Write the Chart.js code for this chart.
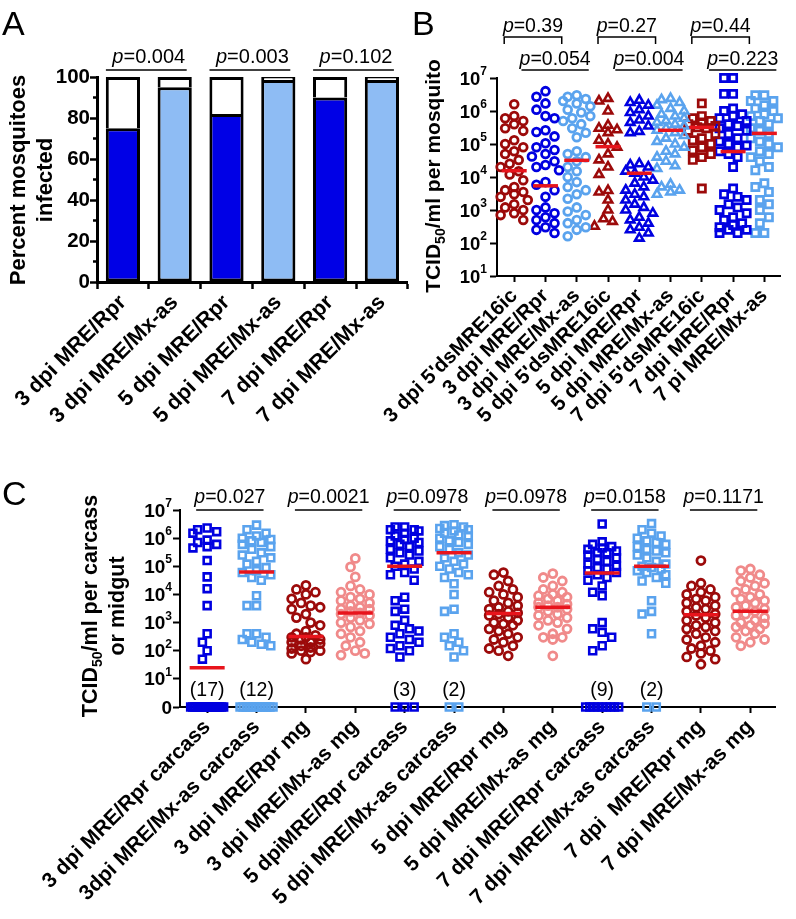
<!DOCTYPE html>
<html>
<head>
<meta charset="utf-8">
<script src="https://cdn.jsdelivr.net/npm/chart.js@4.4.1/dist/chart.umd.min.js"></script>
<style>
  html, body { margin: 0; padding: 0; background: #fff; }
  body { width: 796px; height: 919px; position: relative; overflow: hidden; }
  canvas { position: absolute; }
</style>
</head>
<body>
<canvas id="chartA" width="430" height="460" style="left:0;top:0;width:430px;height:460px"></canvas>
<canvas id="chartB" width="456" height="460" style="left:340px;top:0;width:456px;height:460px"></canvas>
<canvas id="chartC" width="796" height="459" style="left:0;top:460px;width:796px;height:459px"></canvas>
<script>
const FONT = '"Liberation Sans", Arial, Helvetica, sans-serif';

// ---------- panel A: percent infected ----------
const aCategories = ["3 dpi MRE/Rpr", "3 dpi MRE/Mx-as", "5 dpi MRE/Rpr", "5 dpi MRE/Mx-as", "7 dpi MRE/Rpr", "7 dpi MRE/Mx-as"];
const aInfectedPct = [75, 95, 82, 98.5, 90, 98.5];
const aPValues = ["0.004", "0.003", "0.102"];

// ---------- panel B: whole mosquito titres ----------
const bCategories = ["3 dpi 5'dsMRE16ic", "3 dpi MRE/Rpr", "3 dpi MRE/Mx-as", "5 dpi 5'dsMRE16ic", "5 dpi MRE/Rpr", "5 dpi MRE/Mx-as", "7 dpi 5'dsMRE16ic", "7 dpi MRE/Rpr", "7 pi MRE/Mx-as"];
const bDecades = [10, 100, 1e3, 1e4, 1e5, 1e6, 1e7];
const b3dpiDs = [1.6e6, 7e5, 6e5, 5e5, 4e5, 3e5, 2.5e5, 1.3e5, 1e5, 8e4, 6e4, 5e4, 3.3e4, 2.5e4, 2e4, 1.5e4, 1.2e4, 8e3, 5e3, 4e3, 3.5e3, 3e3, 2.5e3, 2e3, 1.5e3, 1.2e3, 1e3, 8e2, 7e2, 5e2];
const b3dpiRpr = [4e6, 2.7e6, 1.7e6, 1.1e6, 7e5, 6e5, 2.6e5, 2.3e5, 1.7e5, 1.05e5, 8e4, 6.6e4, 5e4, 4.2e4, 3e4, 2.3e4, 2e4, 1.6e4, 7e3, 5.8e3, 4e3, 2.5e3, 1.2e3, 1e3, 8e2, 6e2, 5e2, 4e2, 3e2, 2.5e2, 2e2];
const b3dpiMx = [3e6, 2.7e6, 2.3e6, 2e6, 1.7e6, 1.4e6, 1.1e6, 9e5, 7e5, 6e5, 5e5, 4e5, 3e5, 2.2e5, 1.6e5, 6e4, 5e4, 4e4, 3e4, 2e4, 1.5e4, 1e4, 7e3, 5e3, 4e3, 3e3, 2.2e3, 1.2e3, 9e2, 7e2, 5e2, 4e2, 3e2, 2.5e2, 1.6e2];
const b5dpiDs = [2.4e6, 2e6, 1e6, 3.7e5, 3e5, 2.7e5, 2.2e5, 1.3e5, 1e5, 8e4, 5e4, 3.3e4, 2e4, 1.2e4, 3.9e3, 3.5e3, 2e3, 1e3, 5.4e2, 4.5e2, 3.2e2];
const b5dpiRpr = [2.1e6, 1.8e6, 1.5e6, 1.1e6, 9e5, 7e5, 5.3e5, 4.5e5, 3.5e5, 2.4e5, 2.2e5, 2.5e4, 2.3e4, 2e4, 1.5e4, 1.3e4, 1e4, 8e3, 6.5e3, 5e3, 4e3, 3e3, 2.5e3, 2e3, 1.5e3, 1.2e3, 1e3, 8e2, 6e2, 5e2, 4e2, 3e2, 2.5e2, 2e2, 1.4e2];
const b5dpiMx = [2.4e6, 2.2e6, 1.8e6, 1.5e6, 1.2e6, 1e6, 8e5, 7e5, 6e5, 5e5, 4.5e5, 4e5, 3.5e5, 3e5, 2.6e5, 2.2e5, 1.8e5, 1.5e5, 1.2e5, 1e5, 8e4, 6e4, 5e4, 4e4, 3e4, 2.2e4, 1.8e4, 6e3, 5e3, 4e3, 3.5e3, 3e3];
const b7dpiDs = [1.7e6, 7e5, 6e5, 5e5, 4.5e5, 4e5, 3.5e5, 3.2e5, 3e5, 2.5e5, 2e5, 1.5e5, 1.3e5, 1e5, 8e4, 6.5e4, 5e4, 4e4, 3.3e4, 4.5e3];
const b7dpiRpr = [1e7, 1e7, 3.3e6, 3.3e6, 1.2e6, 1e6, 8e5, 7e5, 6e5, 5e5, 4e5, 3.5e5, 3e5, 2.5e5, 2e5, 1.5e5, 1.2e5, 1e5, 9e4, 8e4, 6e4, 5e4, 4e4, 2e4, 4.5e3, 3e3, 2.5e3, 2e3, 1.5e3, 1.2e3, 1e3, 8e2, 6e2, 5e2, 4e2, 3.5e2, 3e2, 2.5e2, 2.5e2, 2e2, 2e2];
const b7dpiMx = [3e6, 3e6, 2e6, 2e6, 1.5e6, 1.2e6, 1e6, 8e5, 7e5, 6e5, 5e5, 4e5, 3e5, 2.5e5, 2e5, 1.5e5, 1.2e5, 1e5, 8e4, 6e4, 5e4, 4e4, 3e4, 2e4, 1.6e4, 6.5e3, 5e3, 3.5e3, 2e3, 1.5e3, 1e3, 6e2, 4e2, 2e2, 2e2];
const bMedians = [1.55e4, 5.4e3, 3.2e4, 8.3e4, 1.3e4, 2.6e5, 3.2e5, 5.9e4, 2.1e5];
const bPBracket = ["0.39", "0.27", "0.44"];
const bPUnder = ["0.054", "0.004", "0.223"];

// ---------- panel C: carcass / midgut titres ----------
const cCategories = ["3 dpi MRE/Rpr carcass", "3dpi MRE/Mx-as carcass", "3 dpi MRE/Rpr mg", "3 dpi MRE/Mx-as mg", "5 dpiMRE/Rpr carcass", "5 dpi MRE/Mx-as carcass", "5 dpi MRE/Rpr mg", "5 dpi MRE/Mx-as mg", "7 dpi MRE/Rpr carcass", "7 dpi MRE/Mx-as carcass", "7 dpi  MRE/Rpr mg", "7 dpi MRE/Mx-as mg"];
const cDecades = [1, 10, 100, 1e3, 1e4, 1e5, 1e6, 1e7];
const c3RprCarcass = [2.3e6, 2e6, 1.7e6, 1.5e6, 8.5e5, 7e5, 6e5, 5e5, 4.5e5, 1.6e5, 4.2e4, 1.6e4, 4e3, 4e2, 2e2, 1e2, 5e1];
const c3MxCarcass = [2.9e6, 2e6, 1.5e6, 1.2e6, 1e6, 9e5, 8e5, 7e5, 6e5, 5e5, 4e5, 3e5, 2.5e5, 2e5, 1.5e5, 1.2e5, 9e4, 7e4, 6e4, 5e4, 4e4, 3.2e4, 9e3, 4e3, 4e3, 4e2, 4e2, 3e2, 2.5e2, 2e2, 1.7e2, 1.5e2];
const c3RprMg = [2.1e4, 1.5e4, 1.2e4, 1e4, 7e3, 5e3, 4e3, 3.5e3, 3e3, 2e3, 1.5e3, 1e3, 8e2, 5e2, 4e2, 3.5e2, 3e2, 3e2, 2.5e2, 2.5e2, 2e2, 2e2, 1.8e2, 1.5e2, 1.3e2, 1.2e2, 1e2, 1e2, 9e1, 8e1, 5e1];
const c3MxMg = [1.9e5, 9.5e4, 4.2e4, 2e4, 1.5e4, 1.2e4, 1e4, 8e3, 7e3, 6e3, 5e3, 4e3, 3.5e3, 3e3, 3e3, 2.5e3, 2.2e3, 2e3, 1.8e3, 1.5e3, 1.2e3, 1e3, 9e2, 7e2, 5e2, 4e2, 3e2, 2e2, 1.5e2, 1e2, 8e1, 7e1];
const c5RprCarcass = [2.5e6, 2.5e6, 2e6, 2e6, 1.8e6, 1.5e6, 1.2e6, 1e6, 9e5, 8e5, 7e5, 6e5, 5e5, 4e5, 3.5e5, 3e5, 2.5e5, 2e5, 1.5e5, 1.2e5, 1e5, 8e4, 6e4, 5e4, 3.2e4, 8e3, 6e3, 3e3, 2.5e3, 1.2e3, 8e2, 6e2, 5e2, 4e2, 3e2, 2.5e2, 2e2, 1.5e2, 1.2e2, 1e2, 6e1];
const c5MxCarcass = [3e6, 2.8e6, 2.5e6, 2.2e6, 2e6, 1.8e6, 1.5e6, 1.3e6, 1.2e6, 1e6, 8e5, 7e5, 6e5, 5e5, 4e5, 3e5, 2.5e5, 2e5, 1.5e5, 1.2e5, 1e5, 8e4, 6e4, 5e4, 4e4, 2.4e4, 1e4, 3e3, 2.5e3, 4e2, 3e2, 2e2, 1.5e2, 1e2, 6e1];
const c5RprMg = [6e4, 5e4, 3e4, 2e4, 1.5e4, 1.2e4, 1e4, 8e3, 6e3, 5e3, 4e3, 3.5e3, 3e3, 2.5e3, 2.2e3, 2e3, 1.8e3, 1.5e3, 1.2e3, 1e3, 9e2, 8e2, 6e2, 5e2, 4e2, 3e2, 2.5e2, 2e2, 1.5e2, 1.2e2, 1e2, 6.6e1];
const c5MxMg = [5.5e4, 4e4, 3e4, 2e4, 1.5e4, 1.2e4, 1e4, 9e3, 8e3, 7e3, 6e3, 5e3, 4.5e3, 4e3, 3.5e3, 3.5e3, 3e3, 2.5e3, 2e3, 1.8e3, 1.5e3, 1.2e3, 1e3, 8e2, 6e2, 4e2, 3e2, 3e2, 2.5e2, 6.6e1];
const c7RprCarcass = [3.2e6, 7.4e5, 6e5, 5e5, 4.5e5, 4e5, 3.5e5, 3e5, 3e5, 2.5e5, 2e5, 1.8e5, 1.5e5, 1.2e5, 1e5, 9e4, 8e4, 7e4, 6e4, 5e4, 4e4, 3.2e4, 2e4, 1.2e4, 9e3, 1e3, 6e2, 4.5e2, 3e2, 1.5e2, 1e2];
const c7MxCarcass = [3.3e6, 2e6, 1.5e6, 1.2e6, 1e6, 8e5, 7e5, 6e5, 5e5, 4e5, 3.5e5, 3e5, 2.5e5, 2e5, 1.5e5, 1.2e5, 1e5, 9e4, 8e4, 7e4, 6e4, 5e4, 4e4, 3e4, 2.5e4, 6e3, 2.5e3, 2e3, 4e2];
const c7RprMg = [1.6e5, 2.5e4, 2e4, 1.5e4, 1.2e4, 1e4, 8e3, 7e3, 6e3, 5e3, 4e3, 3.5e3, 3e3, 2.5e3, 2e3, 1.8e3, 1.5e3, 1.2e3, 1e3, 8e2, 7e2, 6e2, 5e2, 4e2, 3e2, 2.5e2, 2e2, 1.5e2, 1.2e2, 1e2, 8e1, 6e1, 5e1, 3.3e1];
const c7MxMg = [8e4, 7e4, 5e4, 4e4, 3e4, 2.5e4, 2e4, 1.5e4, 1.2e4, 1e4, 8e3, 7e3, 6e3, 5e3, 4e3, 3.5e3, 3e3, 2.5e3, 2e3, 1.8e3, 1.5e3, 1.2e3, 1e3, 9e2, 8e2, 7e2, 6e2, 5e2, 4e2, 3e2, 2.5e2, 2e2, 1.5e2];
const cZeroCounts = [17, 12, 0, 0, 3, 2, 0, 0, 9, 2, 0, 0];
const cMedians = [25, 6.3e4, 3.2e2, 2.2e3, 1e5, 3e5, 2.1e3, 3.5e3, 5.8e4, 1e5, 1.9e3, 2.5e3];
const cPValues = ["0.027", "0.0021", "0.0978", "0.0978", "0.0158", "0.1171"];

// colours
const DARK_RED = "#9c0a0a";
const BLUE = "#0000e0";
const LIGHT_BLUE = "#5aa3ee";
const PINK = "#f08a8a";
const MEDIAN_RED = "#e8141c";
const BAR_DARK = "#0000e6";
const BAR_LIGHT = "#8ebcf4";

Chart.defaults.font.family = FONT;
Chart.defaults.color = "#000";

// ---------- helpers ----------
function drawP(ctx, value, cx, baseline, size) {
  ctx.save();
  ctx.fillStyle = "#000";
  ctx.textBaseline = "alphabetic";
  ctx.textAlign = "left";
  ctx.font = `italic ${size}px ${FONT}`;
  const wp = ctx.measureText("p").width;
  ctx.font = `${size}px ${FONT}`;
  const rest = "=" + value;
  const wr = ctx.measureText(rest).width;
  const x0 = cx - (wp + wr) / 2;
  ctx.font = `italic ${size}px ${FONT}`;
  ctx.fillText("p", x0, baseline);
  ctx.font = `${size}px ${FONT}`;
  ctx.fillText(rest, x0 + wp, baseline);
  ctx.restore();
}

function strokePath(ctx, pts, width) {
  ctx.save();
  ctx.strokeStyle = "#000";
  ctx.lineWidth = width;
  ctx.beginPath();
  pts.forEach(([x, y], i) => (i ? ctx.lineTo(x, y) : ctx.moveTo(x, y)));
  ctx.stroke();
  ctx.restore();
}

function drawText(ctx, text, x, y, font, align) {
  ctx.save();
  ctx.font = font;
  ctx.fillStyle = "#000";
  ctx.textAlign = align || "left";
  ctx.textBaseline = "alphabetic";
  ctx.fillText(text, x, y);
  ctx.restore();
}

// rotated (bottom-to-top) text, parts can carry a size and a baseline shift
function drawVertical(ctx, parts, x, yCenter) {
  ctx.save();
  ctx.translate(x, yCenter);
  ctx.rotate(-Math.PI / 2);
  ctx.fillStyle = "#000";
  ctx.textAlign = "left";
  ctx.textBaseline = "alphabetic";
  let total = 0;
  const widths = parts.map((p) => {
    ctx.font = `bold ${p.size}px ${FONT}`;
    const w = ctx.measureText(p.text).width;
    total += w;
    return w;
  });
  let cx = -total / 2;
  parts.forEach((p, i) => {
    ctx.font = `bold ${p.size}px ${FONT}`;
    ctx.fillText(p.text, cx, p.dy || 0);
    cx += widths[i];
  });
  ctx.restore();
}

function drawDecadeLabels(ctx, scale, decades, rightX, size, supSize) {
  decades.forEach((v) => {
    const y = scale.getPixelForValue(v);
    const exp = Math.round(Math.log10(v));
    if (exp === 0) {
      drawText(ctx, "0", rightX, y + 7, `bold ${size}px ${FONT}`, "right");
      return;
    }
    ctx.save();
    ctx.font = `bold ${supSize}px ${FONT}`;
    const we = ctx.measureText(String(exp)).width;
    ctx.restore();
    drawText(ctx, String(exp), rightX, y - 3, `bold ${supSize}px ${FONT}`, "right");
    drawText(ctx, "10", rightX - we, y + 6.5, `bold ${size}px ${FONT}`, "right");
  });
}

// scatter-dot layout: spread overlapping points sideways (pixel units)
function swarmOffsets(values, pxPerDecade, diam, maxHalf) {
  const placed = [];
  const step = diam * 0.5;
  return values.map((v) => {
    const y = Math.log10(v) * pxPerDecade;
    let bestX = 0;
    let bestCost = Infinity;
    for (let k = 0; k * step <= maxHalf; k++) {
      for (const sgn of k === 0 ? [1] : [-1, 1]) {
        const x = sgn * k * step;
        let cost = 0;
        for (const p of placed) {
          const d = Math.hypot(p.x - x, p.y - y);
          if (d < diam) cost += diam - d;
        }
        if (cost < bestCost - 1e-6) {
          bestCost = cost;
          bestX = x;
        }
      }
      if (bestCost === 0) break;
    }
    placed.push({ x: bestX, y });
    return bestX;
  });
}

function zeroOffsets(n, diam, maxHalf) {
  if (n <= 1) return n ? [0] : [];
  const spacing = Math.min(diam, (2 * maxHalf) / (n - 1));
  return Array.from({ length: n }, (_, j) => (j - (n - 1) / 2) * spacing);
}

// ---------- panel A ----------
const aExtras = {
  id: "aExtras",
  afterDraw(chart) {
    const { ctx, chartArea, scales } = chart;
    // minor ticks
    [10, 30, 50, 70, 90].forEach((v) => {
      const y = scales.y.getPixelForValue(v);
      strokePath(ctx, [[chartArea.left - 4, y], [chartArea.left, y]], 2.5);
    });
    aPValues.forEach((p, k) => {
      const c1 = scales.x.getPixelForValue(2 * k);
      const c2 = scales.x.getPixelForValue(2 * k + 1);
      strokePath(ctx, [[c1 - 17, 70], [c2 + 12, 70]], 1.5);
      drawP(ctx, p, (c1 + c2) / 2, 63, 20);
    });
    drawText(ctx, "A", 2, 35, `34px ${FONT}`);
    drawVertical(ctx, [{ text: "Percent mosquitoes", size: 22 }], 25, 180);
    drawVertical(ctx, [{ text: "infected", size: 22 }], 52, 180);
  },
};

new Chart(document.getElementById("chartA"), {
  type: "bar",
  data: {
    labels: aCategories,
    datasets: [
      {
        data: aInfectedPct,
        backgroundColor: aInfectedPct.map((_, i) => (i % 2 ? BAR_LIGHT : BAR_DARK)),
        borderColor: "#000",
        borderWidth: 3,
        borderSkipped: false,
        barPercentage: 0.66,
        categoryPercentage: 1,
      },
      {
        data: aInfectedPct.map((v) => 100 - v),
        backgroundColor: "#fff",
        borderColor: "#000",
        borderWidth: { top: 3, left: 3, right: 3, bottom: 0 },
        borderSkipped: false,
        barPercentage: 0.66,
        categoryPercentage: 1,
      },
    ],
  },
  options: {
    responsive: false,
    animation: false,
    layout: { padding: { top: 77, right: 22.2, left: 0, bottom: 0 } },
    plugins: { legend: { display: false }, tooltip: { enabled: false } },
    scales: {
      x: {
        stacked: true,
        grid: { drawOnChartArea: false, tickLength: 7, tickColor: "#000", tickWidth: 2.5 },
        border: { color: "#000", width: 3 },
        ticks: { font: { size: 21.5, weight: "bold" }, minRotation: 45, maxRotation: 45, autoSkip: false, padding: 1 },
        afterFit(s) { s.height = 178; },
      },
      y: {
        stacked: true,
        min: 0,
        max: 100,
        grid: { drawOnChartArea: false, tickLength: 7, tickColor: "#000", tickWidth: 2.5 },
        border: { color: "#000", width: 3 },
        ticks: { stepSize: 20, font: { size: 20.5, weight: "bold" }, padding: 0 },
        afterFit(s) { s.width = 97; },
      },
    },
  },
  plugins: [aExtras],
});

// ---------- scatter builder for B and C ----------
function groupDataset(values, idx, style, pxPerCat, pxPerDecade, zeros) {
  const offs = swarmOffsets(values, pxPerDecade, style.diam, style.maxHalf);
  const pts = values.map((v, j) => ({ x: idx + offs[j] / pxPerCat, y: v }));
  zeroOffsets(zeros || 0, style.diam, style.maxHalf).forEach((o) => pts.push({ x: idx + o / pxPerCat, y: 1 }));
  return {
    data: pts,
    order: 1,
    clip: false,
    pointStyle: style.shape,
    pointRadius: style.r,
    pointBorderWidth: style.bw,
    pointBorderColor: style.color,
    pointBackgroundColor: "rgba(0,0,0,0)",
  };
}

function medianDataset(medians, halfLen) {
  return {
    data: medians.map((m, i) => ({ x: i, y: m })),
    order: 0,
    clip: false,
    pointStyle: "line",
    pointRadius: halfLen,
    pointBorderWidth: 3.5,
    pointBorderColor: MEDIAN_RED,
  };
}

function xCategoryScale(categories, min, height, size) {
  return {
    type: "linear",
    min,
    max: categories.length - 0.5,
    afterBuildTicks(s) { s.ticks = categories.map((_, i) => ({ value: i })); },
    grid: { drawOnChartArea: false, tickLength: 6, tickColor: "#000", tickWidth: 2 },
    border: { color: "#000", width: 2 },
    ticks: {
      callback: (v, i) => categories[i],
      font: { size, weight: "bold" },
      minRotation: 45,
      maxRotation: 45,
      autoSkip: false,
      padding: 2,
    },
    afterFit(s) { s.height = height; },
  };
}

function yLogScale(decades, min, max, width) {
  return {
    type: "logarithmic",
    min,
    max,
    afterBuildTicks(s) { s.ticks = decades.map((v) => ({ value: v })); },
    grid: { drawOnChartArea: false, tickLength: 7, tickColor: "#000", tickWidth: 2 },
    border: { color: "#000", width: 2 },
    ticks: { callback: () => "" },
    afterFit(s) { s.width = width; },
  };
}

// ---------- panel B ----------
const bGroups = [b3dpiDs, b3dpiRpr, b3dpiMx, b5dpiDs, b5dpiRpr, b5dpiMx, b7dpiDs, b7dpiRpr, b7dpiMx];
const bShapes = ["circle", "triangle", "rect"];
const bColors = [DARK_RED, BLUE, LIGHT_BLUE];
const bSize = { circle: { r: 3.9, bw: 2.8 }, triangle: { r: 4.9, bw: 2.6 }, rect: { r: 5.1, bw: 2.7 } };
const B_LEFT = 340;

const bExtras = {
  id: "bExtras",
  afterDraw(chart) {
    const { ctx, chartArea, scales } = chart;
    drawDecadeLabels(ctx, scales.y, bDecades, chartArea.left - 10, 18.5, 12);
    drawText(ctx, "B", 412 - B_LEFT, 35, `34px ${FONT}`);
    drawVertical(ctx, [
      { text: "TCID", size: 21 },
      { text: "50", size: 14, dy: 5 },
      { text: "/ml per mosquito", size: 21 },
    ], 440 - B_LEFT, 176);
    bPBracket.forEach((p, k) => {
      const l = scales.x.getPixelForValue(3 * k) - 10;
      const r = scales.x.getPixelForValue(3 * k + 2) - 15;
      strokePath(ctx, [[l, 44], [l, 37], [r, 37], [r, 44]], 1.5);
      drawP(ctx, p, (l + r) / 2, 32, 19.5);
    });
    bPUnder.forEach((p, k) => {
      const l = scales.x.getPixelForValue(3 * k + 1) - 24;
      const r = scales.x.getPixelForValue(3 * k + 2) + 12;
      strokePath(ctx, [[l, 70], [r, 70]], 1.5);
      drawP(ctx, p, (l + r) / 2, 65, 19.5);
    });
  },
};

new Chart(document.getElementById("chartB"), {
  type: "scatter",
  data: {
    datasets: [
      medianDataset(bMedians, 12.5),
      ...bGroups.map((vals, i) => {
        const shape = bShapes[Math.floor(i / 3)];
        return groupDataset(vals, i, { shape, color: bColors[i % 3], diam: 9.5, maxHalf: 15, ...bSize[shape] }, 32.875, 33);
      }),
    ],
  },
  options: {
    responsive: false,
    animation: false,
    layout: { padding: { top: 78, right: 1.6, left: 0, bottom: 0 } },
    plugins: { legend: { display: false }, tooltip: { enabled: false } },
    scales: {
      x: xCategoryScale(bCategories, -0.55, 460 - 276, 20.5),
      y: yLogScale(bDecades, 10, 1e7, 497 - B_LEFT),
    },
  },
  plugins: [bExtras],
});

// ---------- panel C ----------
const cGroups = [c3RprCarcass, c3MxCarcass, c3RprMg, c3MxMg, c5RprCarcass, c5MxCarcass, c5RprMg, c5MxMg, c7RprCarcass, c7MxCarcass, c7RprMg, c7MxMg];
const cStyles = [
  { shape: "rect", color: BLUE, r: 4.9, bw: 2.6 },
  { shape: "rect", color: LIGHT_BLUE, r: 4.9, bw: 2.6 },
  { shape: "circle", color: DARK_RED, r: 4, bw: 2.8 },
  { shape: "circle", color: PINK, r: 4, bw: 2.8 },
];
const C_TOP = 460;

const cExtras = {
  id: "cExtras",
  afterDraw(chart) {
    const { ctx, chartArea, scales } = chart;
    drawDecadeLabels(ctx, scales.y, cDecades, chartArea.left - 8, 19, 12);
    drawText(ctx, "C", 2, 505 - C_TOP, `34px ${FONT}`);
    drawVertical(ctx, [
      { text: "TCID", size: 21.5 },
      { text: "50", size: 14, dy: 5 },
      { text: "/ml per carcass", size: 21.5 },
    ], 97, 606 - C_TOP);
    drawVertical(ctx, [{ text: "or midgut", size: 21.5 }], 124, 606 - C_TOP);
    cPValues.forEach((p, k) => {
      const l = scales.x.getPixelForValue(2 * k) - 11;
      const r = scales.x.getPixelForValue(2 * k + 1) + 7;
      strokePath(ctx, [[l, 510 - C_TOP], [r, 510 - C_TOP]], 1.5);
      drawP(ctx, p, (l + r) / 2, 503 - C_TOP, 19.5);
    });
    cZeroCounts.forEach((n, i) => {
      if (!n) return;
      drawText(ctx, `(${n})`, scales.x.getPixelForValue(i), 696 - C_TOP, `19.5px ${FONT}`, "center");
    });
  },
};

new Chart(document.getElementById("chartC"), {
  type: "scatter",
  data: {
    datasets: [
      medianDataset(cMedians, 17.5),
      ...cGroups.map((vals, i) =>
        groupDataset(vals, i, { ...cStyles[i % 4], diam: 9.5, maxHalf: 16.5 }, 49.44, 28, cZeroCounts[i])
      ),
    ],
  },
  options: {
    responsive: false,
    animation: false,
    layout: { padding: { top: 510 - C_TOP, right: 20.3, left: 0, bottom: 0 } },
    plugins: { legend: { display: false }, tooltip: { enabled: false } },
    scales: {
      x: xCategoryScale(cCategories, -0.55, 459 - (707 - C_TOP), 21),
      y: yLogScale(cDecades, 1, 1e7, 180),
    },
  },
  plugins: [cExtras],
});
</script>
</body>
</html>
